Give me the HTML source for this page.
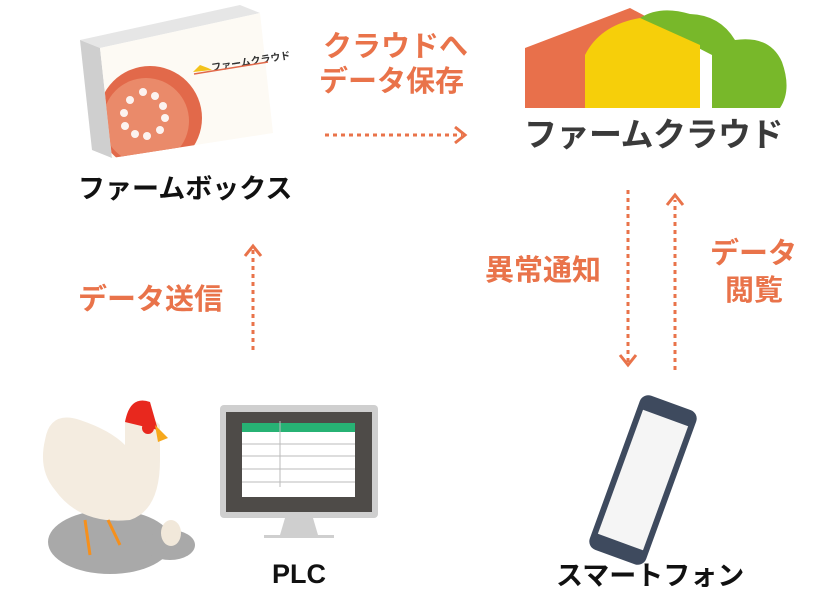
<!DOCTYPE html>
<html><head><meta charset="utf-8"><style>
body{margin:0;width:840px;height:600px;background:#fff;overflow:hidden;position:relative;font-family:"Liberation Sans","Noto Sans CJK JP",sans-serif;}
.t{position:absolute;font-weight:bold;white-space:nowrap;line-height:1;}
.o{color:#e9734a;font-size:29px;}
.k{color:#111;font-size:27px;}
</style></head><body>
<svg width="840" height="600" style="position:absolute;left:0;top:0">
<defs><clipPath id="f"><polygon points="100,48 260,13 273,133 112,158"/></clipPath></defs>
<polygon points="80,40 240,5 260,13 100,48" fill="#e6e6e6"/>
<polygon points="80,40 100,48 112,158 92,150" fill="#cfcfcf"/>
<polygon points="100,48 260,13 273,133 112,158" fill="#fdfaf4"/>
<g clip-path="url(#f)"><circle cx="150" cy="118" r="52" fill="#e2694a"/><circle cx="146" cy="121" r="43" fill="#ea8a6a"/></g>
<g fill="#fff" opacity=".9"><circle cx="143" cy="92" r="4"/><circle cx="155" cy="96" r="4"/><circle cx="163" cy="106" r="4"/><circle cx="165" cy="118" r="4"/><circle cx="160" cy="130" r="4"/><circle cx="147" cy="136" r="4"/><circle cx="135" cy="134" r="4"/><circle cx="125" cy="126" r="4"/><circle cx="124" cy="113" r="4"/><circle cx="130" cy="100" r="4"/></g>
<polygon points="193,72 200,65 208,68 212,70" fill="#f3c21b"/>
<text x="212" y="71" font-size="10" font-weight="bold" fill="#333" transform="rotate(-9 212 71)" font-family="Liberation Sans,Noto Sans CJK JP,sans-serif">ファームクラウド</text>
<line x1="194" y1="74" x2="268" y2="62" stroke="#e2694a" stroke-width="1.5"/>
<polygon points="525,108 525,48 630,8 690,40 690,108" fill="#e8704b"/>
<path d="M640,18 Q660,5 690,14 Q720,15 735,40 Q770,35 782,62 Q792,90 780,108 L712,108 L712,55 Z" fill="#78b82a"/>
<path d="M585,108 L585,55 Q600,25 640,18 L700,45 L700,108Z" fill="#f6cf0a"/>
<g stroke="#e9734a" stroke-width="3" fill="none">
<line x1="325" y1="135" x2="462" y2="135" stroke-dasharray="4 4"/><polyline points="455,127 465,135 455,143"/>
<line x1="253" y1="350" x2="253" y2="250" stroke-dasharray="4 4"/><polyline points="245,256 253,246 261,256"/>
<line x1="628" y1="190" x2="628" y2="362" stroke-dasharray="4 4"/><polyline points="620,355 628,365 636,355"/>
<line x1="675" y1="370" x2="675" y2="200" stroke-dasharray="4 4"/><polyline points="667,205 675,195 683,205"/>
</g>
<ellipse cx="110" cy="542" rx="62" ry="32" fill="#a9a9a9"/>
<ellipse cx="170" cy="545" rx="25" ry="15" fill="#a9a9a9"/>
<ellipse cx="171" cy="533" rx="10" ry="13" fill="#f1e8da"/>
<path d="M45,440 Q50,410 80,420 Q110,430 125,445 L125,420 Q140,405 160,425 L160,460 Q160,510 130,520 Q80,525 55,490 Q38,470 45,440Z" fill="#f4ece0"/>
<path d="M125,422 Q130,395 150,402 L158,430 Z" fill="#e8281e"/>
<circle cx="148" cy="428" r="6" fill="#e8281e"/>
<polygon points="155,425 168,438 158,442" fill="#f6a81c"/>
<g stroke="#f6901c" stroke-width="3"><line x1="85" y1="520" x2="90" y2="555"/><line x1="108" y1="520" x2="120" y2="545"/></g>
<rect x="220" y="405" width="158" height="113" rx="4" fill="#cfcfcf"/>
<rect x="226" y="412" width="146" height="100" fill="#4e4b48"/>
<rect x="242" y="423" width="113" height="74" fill="#fff"/>
<rect x="242" y="423" width="113" height="9" fill="#27b274"/>
<g stroke="#bbb"><line x1="242" y1="444" x2="355" y2="444"/><line x1="242" y1="456" x2="355" y2="456"/><line x1="242" y1="469" x2="355" y2="469"/><line x1="242" y1="482" x2="355" y2="482"/><line x1="280" y1="421" x2="280" y2="487"/></g>
<polygon points="285,518 313,518 318,535 280,535" fill="#cfcfcf"/>
<rect x="264" y="535" width="70" height="3" fill="#cfcfcf"/>
<g transform="rotate(20 643 480)"><rect x="613" y="398" width="60" height="164" rx="9" fill="#3e4a5e"/><rect x="619" y="414" width="48" height="132" fill="#f5f5f5"/></g>
</svg>
<div class="t o" style="left:323px;top:33px">クラウドへ</div>
<div class="t o" style="left:319px;top:68px">データ保存</div>
<div class="t" style="left:524px;top:118px;font-size:33px;letter-spacing:-0.5px;color:#3a3a3a">ファームクラウド</div>
<div class="t k" style="left:78px;top:176px">ファームボックス</div>
<div class="t o" style="left:78px;top:286px">データ送信</div>
<div class="t o" style="left:485px;top:257px">異常通知</div>
<div class="t o" style="left:710px;top:240px">データ</div>
<div class="t o" style="left:725px;top:277px">閲覧</div>
<div class="t k" style="left:272px;top:561px">PLC</div>
<div class="t k" style="left:556px;top:563px">スマートフォン</div>
</body></html>
